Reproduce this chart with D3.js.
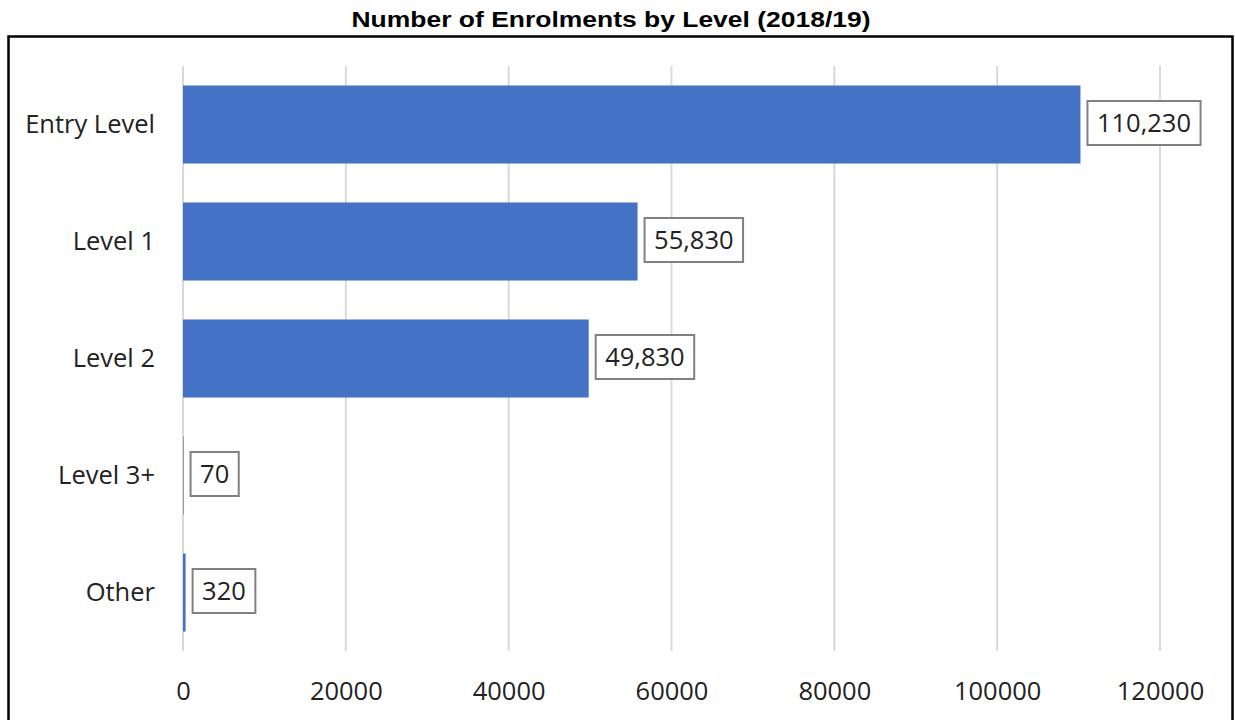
<!DOCTYPE html>
<html>
<head>
<meta charset="utf-8">
<script src="https://cdn.jsdelivr.net/npm/d3@7"></script>
<style>
  html, body { margin: 0; padding: 0; background: #fff; }
  svg { display: block; }
</style>
</head>
<body>
<svg id="chart" width="1235" height="720"></svg>
<script>
const title = "Number of Enrolments by Level (2018/19)";
const categories = ["Entry Level", "Level 1", "Level 2", "Level 3+", "Other"];
const values = [110230, 55830, 49830, 70, 320];
const tickValues = [0, 20000, 40000, 60000, 80000, 100000, 120000];

const svg = d3.select("#chart");
const W = 1235, H = 720;
const labelFont = "'Open Sans', 'Noto Sans', sans-serif";
const textColor = "#222";

svg.append("rect").attr("width", W).attr("height", H).attr("fill", "#fff");

// Outer frame
svg.append("rect")
  .attr("x", 8.5).attr("y", 36.5)
  .attr("width", 1224).attr("height", 720)
  .attr("fill", "none").attr("stroke", "#000").attr("stroke-width", 2.5);

// Title
svg.append("text")
  .attr("x", 611).attr("y", 27)
  .attr("text-anchor", "middle")
  .attr("font-family", "'Liberation Sans', Arial, sans-serif")
  .attr("font-weight", "bold")
  .attr("font-size", 22)
  .attr("textLength", 519)
  .attr("lengthAdjust", "spacingAndGlyphs")
  .attr("fill", "#000")
  .text(title);

const x = d3.scaleLinear().domain([0, 120000]).range([183, 1160]);
const y = d3.scaleBand().domain(categories).range([66, 651])
  .paddingInner(0.333).paddingOuter(0.1665);

// Gridlines
svg.append("g").selectAll("line").data(tickValues).join("line")
  .attr("x1", d => x(d)).attr("x2", d => x(d))
  .attr("y1", 66).attr("y2", 651)
  .attr("stroke", "#d9d9d9").attr("stroke-width", 2);

// X axis labels
const xAxis = d3.axisBottom(x).tickValues(tickValues).tickSize(0).tickPadding(0)
  .tickFormat(d3.format("d"));
const gx = svg.append("g").attr("transform", "translate(0,700)").call(xAxis);
gx.select(".domain").remove();
gx.selectAll("text")
  .attr("y", 0).attr("dy", 0)
  .attr("font-family", labelFont).attr("font-size", 25.5)
  .attr("fill", textColor);

// Y axis labels
const yAxis = d3.axisLeft(y).tickSize(0).tickPadding(0);
const gy = svg.append("g").attr("transform", "translate(155,0)").call(yAxis);
gy.select(".domain").remove();
gy.selectAll("text")
  .attr("x", 0).attr("dy", "0.35em")
  .attr("font-family", labelFont).attr("font-size", 25.5)
  .attr("fill", textColor);

// Bars
const data = categories.map((c, i) => ({ c, v: values[i] }));
svg.append("g").selectAll("rect").data(data).join("rect")
  .attr("x", x(0))
  .attr("y", d => y(d.c))
  .attr("width", d => Math.max(0, x(d.v) - x(0)))
  .attr("height", y.bandwidth())
  .attr("fill", "#4472C4");

// Data labels with boxes
const fmt = d3.format(",");
const lg = svg.append("g");
data.forEach(d => {
  const cy = y(d.c) + y.bandwidth() / 2 - 1.5;
  const g = lg.append("g");
  const bx = x(d.v) + 7;
  const t = g.append("text")
    .attr("font-family", labelFont).attr("font-size", 25.5)
    .attr("fill", textColor)
    .attr("dy", "0.35em")
    .attr("y", cy)
    .text(fmt(d.v));
  const tw = t.node().getComputedTextLength();
  const pad = 9.5;
  g.insert("rect", "text")
    .attr("x", bx).attr("y", cy - 22)
    .attr("width", tw + 2 * pad).attr("height", 44)
    .attr("fill", "#fff").attr("stroke", "#808080").attr("stroke-width", 2);
  t.attr("x", bx + pad);
});
</script>
</body>
</html>
